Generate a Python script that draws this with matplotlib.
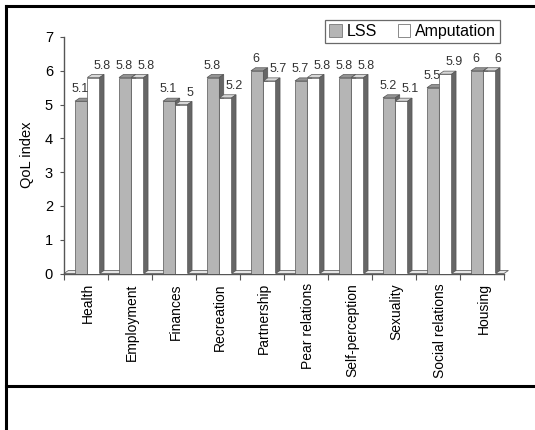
import numpy as np
import matplotlib.pyplot as plt
from matplotlib.patches import Polygon, Patch
from matplotlib.lines import Line2D

plt.rcParams['font.family'] = ['Liberation Sans', 'DejaVu Sans']

categories = ['Health', 'Employment', 'Finances', 'Recreation', 'Partnership',
              'Pear relations', 'Self-perception', 'Sexuality', 'Social relations', 'Housing']
lss = [5.1, 5.8, 5.1, 5.8, 6.0, 5.7, 5.8, 5.2, 5.5, 6.0]
amputation = [5.8, 5.8, 5.0, 5.2, 5.7, 5.8, 5.8, 5.1, 5.9, 6.0]
lss_lbl = ['5.1', '5.8', '5.1', '5.8', '6', '5.7', '5.8', '5.2', '5.5', '6']
amp_lbl = ['5.8', '5.8', '5', '5.2', '5.7', '5.8', '5.8', '5.1', '5.9', '6']

W, H = 535, 430
fig = plt.figure(figsize=(W / 100, H / 100), dpi=100)
ax = fig.add_axes([64 / W, 156.5 / H, 440 / W, 236.5 / H])

x = np.arange(len(categories))
bw = 0.28      # bar width
dx, dy = 0.10, 0.09   # fake 3d depth
edge = '#555555'
front = {'lss': '#b5b5b5', 'amp': '#ffffff'}
top = {'lss': '#949494', 'amp': '#d8d8d8'}
side = '#666666'

# floor strip
ax.add_patch(Polygon([(-0.5, 0), (9.5, 0), (9.5 + dx, dy), (-0.5 + dx, dy)],
                     closed=True, fc='#e6e6e6', ec='#666666', lw=0.6, clip_on=False, zorder=1))


def bar3d(x0, v, key):
    ax.bar(x0, v, width=bw, align='edge', color=front[key], edgecolor=edge,
           linewidth=0.5, zorder=3)
    ax.add_patch(Polygon([(x0, v), (x0 + bw, v), (x0 + bw + dx, v + dy), (x0 + dx, v + dy)],
                         closed=True, fc=top[key], ec=edge, lw=0.5, zorder=3, clip_on=False))
    ax.add_patch(Polygon([(x0 + bw, 0), (x0 + bw + dx, dy), (x0 + bw + dx, v + dy), (x0 + bw, v)],
                         closed=True, fc=side, ec=edge, lw=0.5, zorder=3, clip_on=False))


for i in range(len(categories)):
    bar3d(x[i] - 0.25, lss[i], 'lss')
    bar3d(x[i] + 0.03, amputation[i], 'amp')
    ax.annotate(lss_lbl[i], (x[i] - 0.14, lss[i]), xytext=(0, 8.5), textcoords='offset points',
                ha='center', va='center', fontsize=9, color='#333333', zorder=5)
    ax.annotate(amp_lbl[i], (x[i] + 0.36, amputation[i]), xytext=(0, 8.5), textcoords='offset points',
                ha='center', va='center', fontsize=9, color='#333333', zorder=5)

ax.set_xlim(-0.5, 9.5)
ax.set_ylim(0, 7)
ax.spines['top'].set_visible(False)
ax.spines['right'].set_visible(False)
for s in ('left', 'bottom'):
    ax.spines[s].set_color('#555555')
    ax.spines[s].set_linewidth(1.0)

ax.set_yticks(range(8))
ax.tick_params(axis='y', labelsize=10.5, length=3, width=0.8, color='#555555', pad=5)
ax.set_xticks(x + 0.05)
ax.set_xticklabels(categories, rotation=90, fontsize=10)
ax.set_xticks(np.arange(-0.5, 10, 1), minor=True)
ax.tick_params(axis='x', which='major', length=0, pad=7)
ax.tick_params(axis='x', which='minor', length=4, width=0.8, color='#555555')

fig.text(27 / W, 1 - 155 / H, 'QoL index', rotation=90, ha='center', va='center', fontsize=10.5)

handles = [Patch(fc=front['lss'], ec='#777777', lw=0.6, label='LSS'),
           Patch(fc=front['amp'], ec='#777777', lw=0.6, label='Amputation')]
leg = fig.legend(handles=handles, loc='upper right', bbox_to_anchor=(500 / W, 1 - 20 / H),
                 ncol=2, fontsize=11.5, frameon=True, fancybox=False, edgecolor='#444444',
                 handlelength=0.8, handleheight=0.8, handletextpad=0.3, columnspacing=1.3,
                 borderpad=0.25, borderaxespad=0)
leg.get_frame().set_linewidth(0.9)

# outer frame lines
fig.add_artist(Line2D([5.5 / W, 5.5 / W], [0, 1 - 5.5 / H], transform=fig.transFigure, color='black', lw=2.2))
fig.add_artist(Line2D([5.5 / W, 1], [1 - 5.5 / H, 1 - 5.5 / H], transform=fig.transFigure, color='black', lw=2.2))
fig.add_artist(Line2D([5.5 / W, 1], [1 - 386 / H, 1 - 386 / H], transform=fig.transFigure, color='black', lw=2.2))

fig.savefig('out.png', dpi=100)
